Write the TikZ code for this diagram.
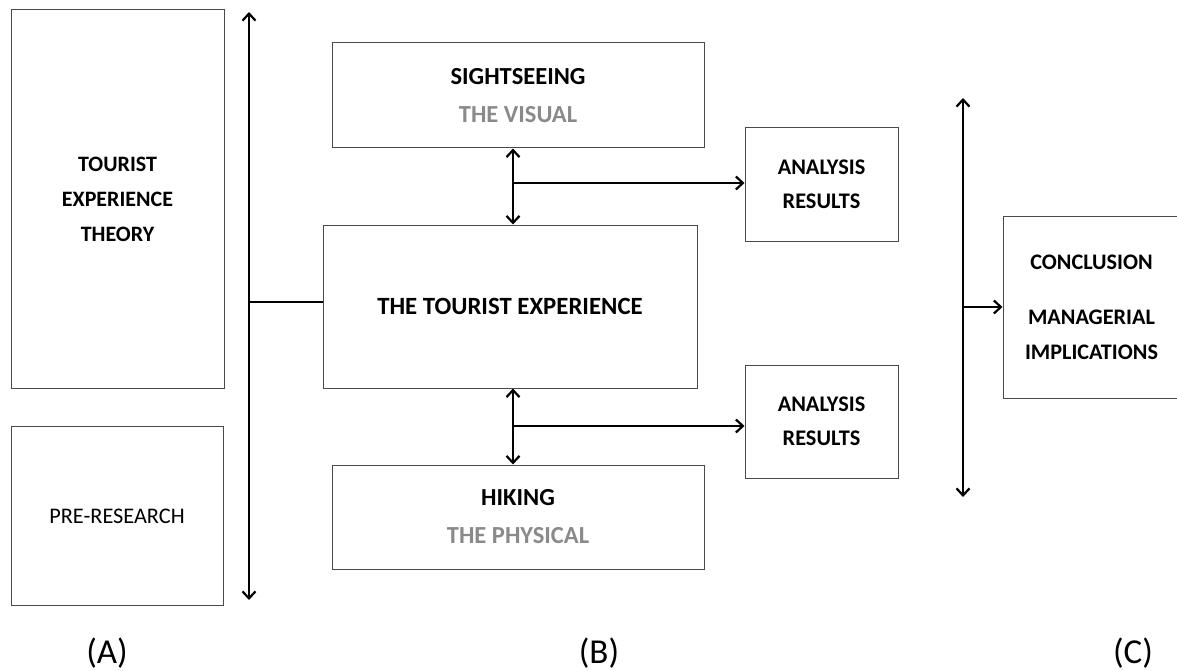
\documentclass[tikz,border=0pt]{standalone}
\usepackage{fontspec}
\setmainfont{Carlito}
\usetikzlibrary{arrows.meta}
\definecolor{boxline}{HTML}{4A4A4A}
\definecolor{subgray}{HTML}{8A8A8A}
\tikzset{
  box/.style={draw=boxline, line width=1pt, align=center, inner sep=0pt, font=\fontsize{22}{35}\selectfont\bfseries},
  conn/.style={line width=2.2pt, black},
  tip/.style={-{Straight Barb[length=7pt,width=13pt]}},
  dtip/.style={{Straight Barb[length=7pt,width=13pt]}-{Straight Barb[length=7pt,width=13pt]}},
  partlabel/.style={font=\fontsize{35}{40}\selectfont}
}
\begin{document}
\begin{tikzpicture}[x=1pt,y=-1pt]
\useasboundingbox (0,0) rectangle (1177,671);
% column A
\node[box, minimum width=213pt, minimum height=378pt] (tet) at (117.5,199) {TOURIST\\EXPERIENCE\\THEORY};
\node[box, minimum width=212pt, minimum height=179pt, font=\fontsize{22.3}{30}\selectfont] (pre) at (117,516) {PRE-RESEARCH};
% column B
\node[box, minimum width=372pt, minimum height=105pt, font=\fontsize{24.5}{38}\selectfont\bfseries] (sight) at (518,95.5) {SIGHTSEEING\\\textcolor{subgray}{THE VISUAL}};
\node[box, minimum width=374pt, minimum height=163pt, font=\fontsize{24.8}{30}\selectfont\bfseries] (tte) at (510,306.5) {THE TOURIST EXPERIENCE};
\node[box, minimum width=372pt, minimum height=104pt, font=\fontsize{24.5}{38}\selectfont\bfseries] (hike) at (518,517) {HIKING\\\textcolor{subgray}{THE PHYSICAL}};
\node[box, minimum width=153pt, minimum height=113pt, font=\fontsize{22.3}{34}\selectfont\bfseries] (an1) at (821.5,184.5) {ANALYSIS\\RESULTS};
\node[box, minimum width=153pt, minimum height=113pt, font=\fontsize{22.3}{34}\selectfont\bfseries] (an2) at (821.5,421.5) {ANALYSIS\\RESULTS};
% column C
\node[box, minimum width=177pt, minimum height=182pt, font=\fontsize{22.2}{35}\selectfont\bfseries] (concl) at (1091.5,307) {CONCLUSION\\[20pt]MANAGERIAL\\IMPLICATIONS};
% part labels
\node[partlabel] (la) at (107,653) {(A)};
\node[partlabel] (lb) at (599,653) {(B)};
\node[partlabel] (lc) at (1133,653) {(C)};
% connectors
\coordinate (aTop) at (249,12);
\coordinate (aBot) at (249,600);
\coordinate (jA) at (249,302);
\draw[conn, dtip] (aTop) -- (aBot);
\draw[conn] (jA) -- (jA -| tte.west);
\coordinate (j1) at (513,183);
\draw[conn, dtip] (sight.south -| j1) -- (tte.north -| j1);
\draw[conn, tip] (j1) -- (j1 -| an1.west);
\coordinate (j2) at (513,426);
\draw[conn, dtip] (tte.south -| j2) -- (hike.north -| j2);
\draw[conn, tip] (j2) -- (j2 -| an2.west);
\coordinate (cTop) at (963,98);
\coordinate (cBot) at (963,497);
\coordinate (jC) at (963,307);
\draw[conn, dtip] (cTop) -- (cBot);
\draw[conn, tip] (jC) -- (jC -| concl.west);
\end{tikzpicture}
\end{document}
